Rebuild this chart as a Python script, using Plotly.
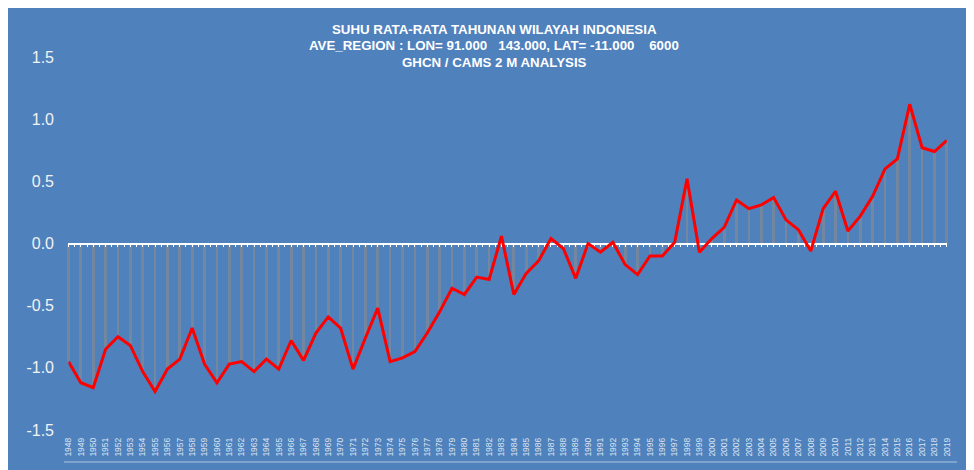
import plotly.graph_objects as go

# ---- data ----
years = list(range(1948, 2020))
anomaly = [
    -0.95, -1.12, -1.16, -0.85, -0.75, -0.82, -1.03, -1.19, -1.01, -0.93,
    -0.68, -0.97, -1.12, -0.97, -0.95, -1.03, -0.93, -1.01, -0.78, -0.94,
    -0.72, -0.59, -0.68, -1.01, -0.76, -0.52, -0.95, -0.92, -0.87, -0.72,
    -0.55, -0.36, -0.41, -0.27, -0.29, 0.06, -0.41, -0.24, -0.14, 0.04,
    -0.04, -0.28, 0.00, -0.07, 0.01, -0.17, -0.25, -0.10, -0.10, 0.01,
    0.52, -0.07, 0.04, 0.13, 0.35, 0.28, 0.31, 0.37, 0.19, 0.11,
    -0.06, 0.28, 0.42, 0.10, 0.22, 0.38, 0.60, 0.68, 1.12, 0.77,
    0.74, 0.83,
]
year_labels = [str(y) for y in years]
y_ticks = [-1.5, -1.0, -0.5, 0.0, 0.5, 1.0, 1.5]
y_tick_labels = ["-1.5", "-1.0", "-0.5", "0.0", "0.5", "1.0", "1.5"]
title_lines = [
    "SUHU RATA-RATA TAHUNAN WILAYAH INDONESIA",
    "AVE_REGION : LON= 91.000\u00a0\u00a0\u00a0143.000, LAT= -11.000\u00a0\u00a0\u00a0\u00a06000",
    "GHCN / CAMS 2 M ANALYSIS",
]

BLUE = "#4F81BD"
W, H = 966, 462
ML, MR, MT, MB = 56, 17, 49, 40
plot_w = W - ML - MR
plot_h = H - MT - MB
ymin, ymax = -1.5, 1.5
xr = [1947.64, 2019.82]
FONT = "Liberation Sans, Arial"

fig = go.Figure()
fig.add_trace(go.Bar(
    x=years, y=anomaly, width=0.22,
    marker=dict(color="rgba(140,140,140,0.6)", line=dict(width=0)),
    hoverinfo="skip", showlegend=False,
))
fig.add_trace(go.Scatter(
    x=years, y=anomaly, mode="lines", xaxis="x2", yaxis="y",
    line=dict(color="#FF0000", width=3),
    showlegend=False,
))

def px_x(p):
    return (p - ML) / plot_w

def px_y(p):
    return (H - MB - p) / plot_h

# x2 domain covering exactly first..last year on the main axis scale
span = xr[1] - xr[0]
d0 = (years[0] - xr[0]) / span
d1 = (years[-1] - xr[0]) / span

shapes = [
    dict(type="line", xref="paper", yref="paper", x0=0, x1=1,
         y0=px_y(454), y1=px_y(454), line=dict(color="rgba(255,255,255,0.55)", width=1)),
]

annotations = []
for i, t in enumerate(title_lines):
    annotations.append(dict(
        text="<b>" + t + "</b>", xref="paper", yref="paper",
        x=px_x(486), y=px_y(22 + 16 * i), xanchor="center", yanchor="middle",
        showarrow=False, font=dict(family=FONT, size=13.3, color="white"),
    ))

fig.update_layout(
    width=W, height=H,
    margin=dict(l=ML, r=MR, t=MT, b=MB, pad=0),
    paper_bgcolor=BLUE, plot_bgcolor="rgba(0,0,0,0)",
    bargap=0,
    shapes=shapes, annotations=annotations,
    xaxis=dict(
        range=xr, domain=[0, 1], tickmode="array", tickvals=years, ticktext=year_labels,
        tickangle=-90, tickfont=dict(family=FONT, size=8.5, color="#DCE4F0"),
        showgrid=False, zeroline=False, showline=False, ticks="", ticklabelstandoff=5,
    ),
    xaxis2=dict(
        range=[years[0], years[-1]], domain=[d0, d1], anchor="free",
        position=(0 - ymin) / (ymax - ymin),
        showline=True, linecolor="white", linewidth=1.5,
        ticks="outside", ticklen=3, tickwidth=1, tickcolor="white",
        tick0=years[0], dtick=0.5, showticklabels=False, showgrid=False,
        zeroline=False, layer="below traces",
    ),
    yaxis=dict(
        range=[ymin, ymax], tickmode="array", tickvals=y_ticks, ticktext=y_tick_labels,
        tickfont=dict(family=FONT, size=16, color="#F2F2F2"),
        showgrid=False, zeroline=False, showline=False, ticks="", ticklabelstandoff=9,
    ),
)

fig.write_html("out.html")
